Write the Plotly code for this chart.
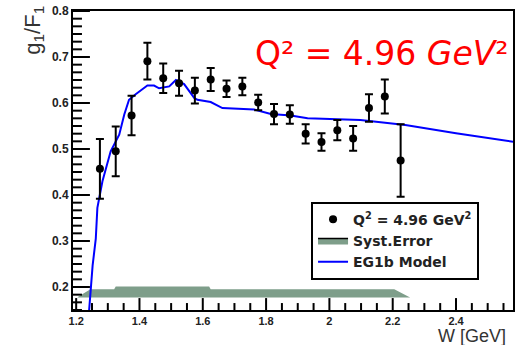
import plotly.graph_objects as go

# ---- data ----
W = [1.275, 1.325, 1.375, 1.425, 1.475, 1.525, 1.575, 1.625, 1.675, 1.725,
     1.775, 1.825, 1.875, 1.925, 1.975, 2.025, 2.075, 2.125, 2.175, 2.225]
g1F1 = [0.457, 0.495, 0.573, 0.691, 0.654, 0.643, 0.627, 0.651, 0.631, 0.636,
        0.601, 0.576, 0.575, 0.533, 0.515, 0.541, 0.523, 0.589, 0.614, 0.475]
g1F1_err = [0.065, 0.054, 0.043, 0.040, 0.032, 0.027, 0.028, 0.025, 0.018, 0.019,
            0.017, 0.022, 0.020, 0.021, 0.019, 0.022, 0.027, 0.030, 0.037, 0.079]

W_model = [1.241, 1.252, 1.262, 1.267, 1.283, 1.309, 1.336, 1.352, 1.367, 1.388,
           1.425, 1.446, 1.462, 1.494, 1.515, 1.541, 1.573, 1.583, 1.625, 1.662,
           1.762, 1.815, 1.878, 1.931, 2.098, 2.24, 2.40, 2.58]
g_model = [0.150, 0.247, 0.305, 0.372, 0.430, 0.495, 0.531, 0.575, 0.607, 0.619,
           0.638, 0.638, 0.632, 0.636, 0.650, 0.641, 0.611, 0.607, 0.602, 0.589,
           0.586, 0.576, 0.573, 0.567, 0.563, 0.552, 0.534, 0.516]

W_sys = [1.205, 1.245, 1.320, 1.325, 1.620, 1.625, 2.205, 2.255]
sys_hi = [0.178, 0.195, 0.195, 0.201, 0.201, 0.195, 0.195, 0.178]
sys_lo = [0.177, 0.177, 0.177, 0.177, 0.177, 0.177, 0.177, 0.177]

x_major = [1.2, 1.4, 1.6, 1.8, 2.0, 2.2, 2.4]
y_major = [0.2, 0.3, 0.4, 0.5, 0.6, 0.7, 0.8]

BAND = "rgb(126,158,138)"
X_RANGE = [1.19, 2.58]
Y_RANGE = [0.15, 0.8]
PLOT_W, PLOT_H = 442, 301

fig = go.Figure()

band_x = W_sys + W_sys[::-1]
band_y = sys_hi + sys_lo[::-1]
fig.add_trace(go.Scatter(x=band_x, y=band_y, mode="lines", fill="toself", fillcolor=BAND,
                         line=dict(width=0, color=BAND), showlegend=False, hoverinfo="skip",
                         legendgroup="sys"))
fig.add_trace(go.Scatter(x=[None], y=[None], mode="lines", fill="toself", fillcolor=BAND,
                         line=dict(width=1.5, color="black"), name="Syst.Error",
                         legendgroup="sys", legendrank=2))
fig.add_trace(go.Scatter(x=W_model, y=g_model, mode="lines", line=dict(color="#0000ff", width=2),
                         name="EG1b Model", legendrank=3))
fig.add_trace(go.Scatter(x=W, y=g1F1, mode="markers",
                         marker=dict(color="black", size=8, symbol="circle"),
                         error_y=dict(type="data", array=g1F1_err, color="black", thickness=2, width=4),
                         name="Q<sup>2</sup> = 4.96 GeV<sup>2</sup>", legendrank=1))

# ROOT-style inside tick marks, built on the axes' own data scales
xunit_per_px = (X_RANGE[1] - X_RANGE[0]) / PLOT_W
yunit_per_px = (Y_RANGE[1] - Y_RANGE[0]) / PLOT_H
tx, ty = [], []
for i in range(0, 29):
    v = round(1.15 + 0.05 * i, 4)
    if v < X_RANGE[0] or v > X_RANGE[1]:
        continue
    major = any(abs(v - m) < 1e-6 for m in x_major)
    ln = (12 if major else 7) * yunit_per_px
    tx += [v, v, None]
    ty += [Y_RANGE[0], Y_RANGE[0] + ln, None]
for i in range(0, 40):
    v = 0.8 - i / 60
    if v < Y_RANGE[0] - 1e-9:
        continue
    major = any(abs(v - m) < 1e-6 for m in y_major)
    ln = (17 if major else 9) * xunit_per_px
    tx += [X_RANGE[0], X_RANGE[0] + ln, None]
    ty += [v, v, None]
fig.add_trace(go.Scatter(x=tx, y=ty, mode="lines", line=dict(color="black", width=2),
                         showlegend=False, hoverinfo="skip", cliponaxis=False))

fig.update_xaxes(range=X_RANGE, tickmode="array", tickvals=x_major,
                 ticktext=[f"{v:g}" for v in x_major], ticks="",
                 showline=True, linecolor="black", linewidth=2, mirror=True,
                 showgrid=False, zeroline=False,
                 tickfont=dict(family="Liberation Sans", size=11, color="#222", weight="bold"))
fig.update_yaxes(range=Y_RANGE, tickmode="array", tickvals=y_major,
                 ticktext=[f"{v:g}" for v in y_major], ticks="",
                 showline=True, linecolor="black", linewidth=2, mirror=True,
                 showgrid=False, zeroline=False,
                 tickfont=dict(family="Liberation Sans", size=12, color="#222", weight="bold"))

fig.update_layout(
    width=519, height=345,
    margin=dict(l=73, r=4, t=9, b=35),
    paper_bgcolor="white", plot_bgcolor="white",
    showlegend=True,
    legend=dict(x=0.541, y=0.362, xanchor="left", yanchor="top",
                bgcolor="white", bordercolor="black", borderwidth=2,
                font=dict(family="DejaVu Sans", size=14, color="#222", weight="bold"),
                tracegroupgap=0, itemwidth=30, traceorder="normal"),
    annotations=[
        dict(text="Q² = 4.96 <i>GeV</i>²", xref="paper", yref="paper", x=0.41, y=0.857,
             xanchor="left", yanchor="middle", showarrow=False,
             font=dict(family="DejaVu Sans", size=33, color="#ff0000")),
        dict(text="W [GeV]", xref="paper", yref="paper", x=0.989, y=-0.087,
             xanchor="right", yanchor="middle", showarrow=False,
             font=dict(family="Liberation Sans", size=18, color="#333")),
        dict(text="g<sub>1</sub>/F<sub>1</sub>", xref="paper", yref="paper", x=-0.088, y=0.935,
             xanchor="center", yanchor="middle", textangle=-90, showarrow=False,
             font=dict(family="Liberation Sans", size=22, color="#333")),
    ],
)

fig.write_html("out.html")
